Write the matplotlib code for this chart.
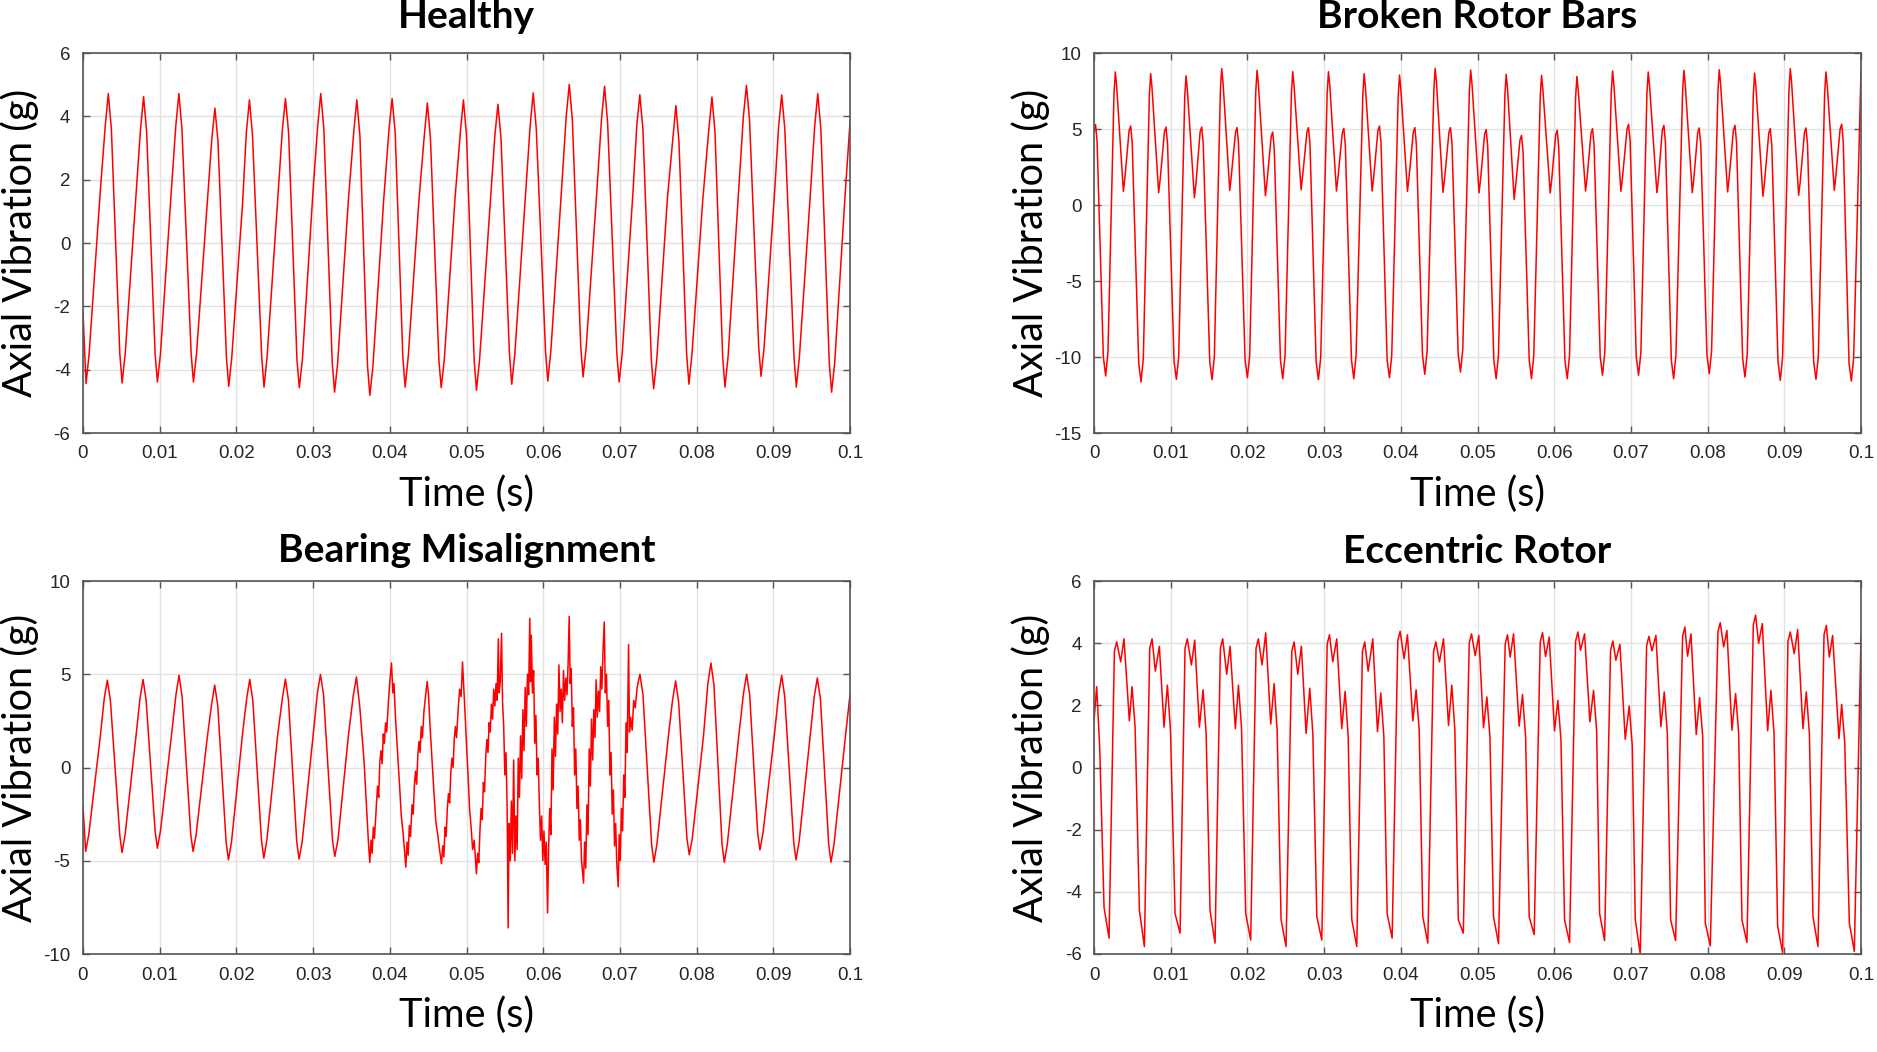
import matplotlib
matplotlib.use("Agg")
import matplotlib.pyplot as plt
import numpy as np

# ------------------------------------------------------------------ #
# Data (time in s, axial vibration in g)
# ------------------------------------------------------------------ #
xticks = [0, 0.01, 0.02, 0.03, 0.04, 0.05, 0.06, 0.07, 0.08, 0.09, 0.1]
xtick_labels = ["0", "0.01", "0.02", "0.03", "0.04", "0.05",
                "0.06", "0.07", "0.08", "0.09", "0.1"]

# Healthy
healthy_end_t = [0.0, 0.1]
healthy_end_v = [-2.2, 3.8]
healthy_trough_t = [0.0004, 0.0051, 0.0097, 0.0144, 0.0190, 0.0236, 0.0282, 0.0328,
                    0.0374, 0.0420, 0.0467, 0.0513, 0.0559, 0.0606, 0.0652, 0.0699,
                    0.0744, 0.0790, 0.0837, 0.0884, 0.0930, 0.0976]
healthy_trough_v = [-4.44, -4.42, -4.39, -4.39, -4.53, -4.55, -4.57, -4.71, -4.81, -4.55,
                    -4.57, -4.65, -4.46, -4.36, -4.23, -4.39, -4.60, -4.46, -4.55, -4.21,
                    -4.55, -4.71]
healthy_post_trough_t = [0.0008, 0.0055, 0.0101, 0.0148, 0.0194, 0.0240, 0.0286, 0.0332,
                         0.0378, 0.0424, 0.0471, 0.0517, 0.0563, 0.0610, 0.0656, 0.0703,
                         0.0748, 0.0794, 0.0841, 0.0888, 0.0934, 0.0980]
healthy_post_trough_v = [-3.5, -3.5, -3.5, -3.5, -3.6, -3.6, -3.7, -3.8, -3.9, -3.6, -3.7,
                         -3.7, -3.5, -3.4, -3.3, -3.5, -3.7, -3.5, -3.6, -3.3, -3.6, -3.8]
healthy_pre_trough_t = [0.0048, 0.0094, 0.0141, 0.0187, 0.0233, 0.0279, 0.0325, 0.0371,
                        0.0417, 0.0464, 0.0510, 0.0556, 0.0603, 0.0649, 0.0696, 0.0741,
                        0.0787, 0.0834, 0.0881, 0.0927, 0.0973]
healthy_pre_trough_v = [-3.5, -3.5, -3.5, -3.6, -3.6, -3.7, -3.8, -3.9, -3.6, -3.7, -3.7,
                        -3.5, -3.4, -3.3, -3.5, -3.7, -3.5, -3.6, -3.3, -3.6, -3.8]
healthy_shoulder_t = [0.0022, 0.0069, 0.0115, 0.0162, 0.0208, 0.0254, 0.0300, 0.0346,
                      0.0392, 0.0438, 0.0485, 0.0531, 0.0577, 0.0624, 0.0670, 0.0717,
                      0.0762, 0.0808, 0.0855, 0.0902, 0.0948, 0.0994]
healthy_shoulder_v = [1.45, 1.45, 1.60, 1.24, 1.24, 1.45, 1.68, 1.35, 1.35, 1.35, 1.40,
                      1.30, 1.56, 1.72, 1.66, 1.58, 1.43, 1.35, 1.75, 1.72, 1.43, 1.66]
healthy_pre_peak_t = [0.0029, 0.0075, 0.0121, 0.0168, 0.0213, 0.0260, 0.0306, 0.0353,
                      0.0399, 0.0445, 0.0492, 0.0537, 0.0583, 0.0630, 0.0676, 0.0722,
                      0.0769, 0.0816, 0.0861, 0.0907, 0.0954]
healthy_pre_peak_v = [3.7, 3.6, 3.7, 3.3, 3.5, 3.6, 3.7, 3.5, 3.6, 3.4, 3.5,
                      3.4, 3.7, 4.0, 3.9, 3.7, 3.3, 3.6, 4.0, 3.7, 3.7]
healthy_peak_t = [0.0033, 0.0079, 0.0125, 0.0172, 0.0217, 0.0264, 0.0310, 0.0357,
                  0.0403, 0.0449, 0.0496, 0.0541, 0.0587, 0.0634, 0.0680, 0.0726,
                  0.0773, 0.0820, 0.0865, 0.0911, 0.0958]
healthy_peak_v = [4.72, 4.62, 4.72, 4.26, 4.52, 4.56, 4.72, 4.52, 4.56, 4.42, 4.52,
                  4.38, 4.74, 5.01, 4.95, 4.68, 4.34, 4.61, 4.98, 4.68, 4.72]
healthy_post_peak_t = [0.0037, 0.0083, 0.0129, 0.0176, 0.0221, 0.0268, 0.0314, 0.0361,
                       0.0407, 0.0453, 0.0500, 0.0545, 0.0591, 0.0638, 0.0684, 0.0730,
                       0.0777, 0.0824, 0.0869, 0.0915, 0.0962]
healthy_post_peak_v = [3.6, 3.5, 3.6, 3.2, 3.4, 3.5, 3.6, 3.4, 3.5, 3.3, 3.4,
                       3.3, 3.6, 3.9, 3.8, 3.6, 3.2, 3.5, 3.9, 3.6, 3.6]

# Broken rotor bars
broken_end_t = [0.0, 0.1]
broken_end_v = [4.8, 8.8]
broken_big_trough_t = [0.00152, 0.00613, 0.01074, 0.01539, 0.02000, 0.02461, 0.02926,
                       0.03387, 0.03852, 0.04313, 0.04778, 0.05243, 0.05704, 0.06170,
                       0.06630, 0.07100, 0.07557, 0.08022, 0.08487, 0.08948, 0.09413,
                       0.09874]
broken_big_trough_v = [-11.25, -11.64, -11.47, -11.49, -11.36, -11.43, -11.49, -11.43,
                       -11.36, -11.14, -10.99, -11.43, -11.43, -11.43, -11.20, -11.20,
                       -11.43, -11.10, -11.32, -11.54, -11.47, -11.58]
broken_pre_bt_t = [0.00122, 0.00583, 0.01044, 0.01509, 0.01970, 0.02431, 0.02896, 0.03357,
                   0.03822, 0.04283, 0.04748, 0.05213, 0.05674, 0.06140, 0.06600, 0.07070,
                   0.07527, 0.07992, 0.08457, 0.08918, 0.09383, 0.09844]
broken_pre_bt_v = [-10.0, -10.4, -10.3, -10.3, -10.2, -10.2, -10.3, -10.2, -10.2, -9.9,
                   -9.8, -10.2, -10.2, -10.2, -10.0, -10.0, -10.2, -9.9, -10.1, -10.3,
                   -10.3, -10.4]
broken_post_bt_t = [0.00182, 0.00643, 0.01104, 0.01569, 0.02030, 0.02491, 0.02956, 0.03417,
                    0.03882, 0.04343, 0.04808, 0.05273, 0.05734, 0.06200, 0.06660, 0.07130,
                    0.07587, 0.08052, 0.08517, 0.08978, 0.09443, 0.09904]
broken_post_bt_v = [-9.7, -10.1, -10.0, -10.0, -9.9, -9.9, -10.0, -9.9, -9.9, -9.6,
                    -9.5, -9.9, -9.9, -9.9, -9.7, -9.7, -9.9, -9.6, -9.8, -10.0,
                    -10.0, -10.1]
broken_pre_bp_t = [0.00261, 0.00722, 0.01183, 0.01648, 0.02109, 0.02574, 0.03040, 0.03505,
                   0.03966, 0.04431, 0.04894, 0.05357, 0.05818, 0.06279, 0.06744, 0.07209,
                   0.07674, 0.08135, 0.08596, 0.09061, 0.09526]
broken_pre_bp_v = [7.35, 7.24, 7.10, 7.57, 7.46, 7.37, 7.37, 7.24, 7.15, 7.59, 7.48,
                   7.20, 7.13, 7.06, 7.42, 7.35, 7.46, 7.50, 7.28, 7.57, 7.35]
broken_big_peak_t = [0.00278, 0.00739, 0.01200, 0.01665, 0.02126, 0.02591, 0.03057,
                     0.03522, 0.03983, 0.04448, 0.04911, 0.05374, 0.05835, 0.06296,
                     0.06761, 0.07226, 0.07691, 0.08152, 0.08613, 0.09078, 0.09543]
broken_big_peak_v = [8.75, 8.64, 8.50, 8.97, 8.86, 8.77, 8.77, 8.64, 8.55, 8.99, 8.88,
                     8.60, 8.53, 8.46, 8.82, 8.75, 8.86, 8.90, 8.68, 8.97, 8.75]
broken_post_bp_t = [0.00295, 0.00756, 0.01217, 0.01682, 0.02143, 0.02608, 0.03074, 0.03539,
                    0.04000, 0.04465, 0.04928, 0.05391, 0.05852, 0.06313, 0.06778, 0.07243,
                    0.07708, 0.08169, 0.08630, 0.09095, 0.09560]
broken_post_bp_v = [7.85, 7.74, 7.60, 8.07, 7.96, 7.87, 7.87, 7.74, 7.65, 8.09, 7.98,
                    7.70, 7.63, 7.56, 7.92, 7.85, 7.96, 8.00, 7.78, 8.07, 7.85]
broken_small_trough_t = [0.00383, 0.00843, 0.01309, 0.01770, 0.02235, 0.02700, 0.03161,
                         0.03626, 0.04087, 0.04550, 0.05020, 0.05478, 0.05948, 0.06409,
                         0.06870, 0.07339, 0.07800, 0.08261, 0.08722, 0.09187, 0.09652]
broken_small_trough_v = [0.90, 0.81, 0.48, 0.96, 0.61, 1.00, 0.92, 0.92, 0.90, 0.83, 0.80,
                         0.37, 0.79, 0.92, 0.90, 0.81, 0.81, 0.86, 0.57, 0.64, 0.96]
broken_kink_t = [0.00403, 0.00863, 0.01329, 0.01790, 0.02255, 0.02720, 0.03181, 0.03646,
                 0.04107, 0.04570, 0.05040, 0.05498, 0.05968, 0.06429, 0.06890, 0.07359,
                 0.07820, 0.08281, 0.08742, 0.09207, 0.09672]
broken_kink_v = [1.8, 1.7, 1.4, 1.9, 1.5, 1.9, 1.8, 1.8, 1.8, 1.7, 1.7,
                 1.3, 1.7, 1.8, 1.8, 1.7, 1.7, 1.8, 1.5, 1.5, 1.9]
broken_pre_sp_t = [0.00458, 0.00919, 0.01384, 0.01845, 0.02310, 0.02776, 0.03237, 0.03702,
                   0.04163, 0.04628, 0.05093, 0.05554, 0.06019, 0.06480, 0.06950, 0.07410,
                   0.07871, 0.08337, 0.08797, 0.09263, 0.09728]
broken_pre_sp_v = [4.90, 4.83, 4.83, 4.79, 4.50, 4.79, 4.74, 4.90, 4.79, 4.79, 4.66,
                   4.28, 4.61, 4.72, 5.01, 4.94, 4.77, 4.94, 4.72, 4.77, 5.01]
broken_small_peak_t = [0.00020, 0.00478, 0.00939, 0.01404, 0.01865, 0.02330, 0.02796,
                       0.03257, 0.03722, 0.04183, 0.04648, 0.05113, 0.05574, 0.06039,
                       0.06500, 0.06970, 0.07430, 0.07891, 0.08357, 0.08817, 0.09283,
                       0.09748]
broken_small_peak_v = [5.30, 5.20, 5.13, 5.13, 5.09, 4.80, 5.09, 5.04, 5.20, 5.09, 5.09,
                       4.96, 4.58, 4.91, 5.02, 5.31, 5.24, 5.07, 5.24, 5.02, 5.07, 5.31]
broken_post_sp_t = [0.00040, 0.00498, 0.00959, 0.01424, 0.01885, 0.02350, 0.02816, 0.03277,
                    0.03742, 0.04203, 0.04668, 0.05133, 0.05594, 0.06059, 0.06520, 0.06990,
                    0.07450, 0.07911, 0.08377, 0.08837, 0.09303, 0.09768]
broken_post_sp_v = [4.20, 4.10, 4.03, 4.03, 3.99, 3.70, 3.99, 3.94, 4.10, 3.99, 3.99,
                    3.86, 3.48, 3.81, 3.92, 4.21, 4.14, 3.97, 4.14, 3.92, 3.97, 4.21]

# Bearing misalignment (clean cycles + noisy stretch in the middle)
bearing_end_t = [0.0, 0.1]
bearing_end_v = [-2.1, 3.9]
bearing_trough_t = [0.00035, 0.00509, 0.00970, 0.01435, 0.01896, 0.02357, 0.02817,
                    0.03283, 0.07443, 0.07904, 0.08361, 0.08826, 0.09296, 0.09752]
bearing_trough_v = [-4.50, -4.56, -4.33, -4.50, -4.95, -4.86, -4.91, -4.77, -5.08, -4.68,
                    -5.08, -4.42, -4.95, -5.08]
bearing_post_trough_t = [0.00075, 0.00549, 0.01010, 0.01475, 0.01936, 0.02397, 0.02857,
                         0.03323, 0.07483, 0.07944, 0.08401, 0.08866, 0.09336, 0.09792]
bearing_post_trough_v = [-3.6, -3.6, -3.4, -3.6, -4.0, -3.9, -4.0, -3.9, -4.1, -3.8,
                         -4.1, -3.5, -4.0, -4.1]
bearing_pre_trough_t = [0.00479, 0.00940, 0.01405, 0.01866, 0.02327, 0.02787, 0.03253,
                        0.07413, 0.07874, 0.08331, 0.08796, 0.09266, 0.09722]
bearing_pre_trough_v = [-3.6, -3.4, -3.6, -4.0, -3.9, -4.0, -3.9, -4.1, -3.8, -4.1, -3.5,
                        -4.0, -4.1]
bearing_shoulder_t = [0.0022, 0.0069, 0.0115, 0.0162, 0.0208, 0.0254, 0.0300, 0.0346,
                      0.0763, 0.0809, 0.0855, 0.0901, 0.0948, 0.0994]
bearing_shoulder_v = [1.47, 1.65, 1.60, 1.60, 1.80, 1.80, 1.70, 1.70, 1.60, 1.70, 1.70,
                      1.60, 1.70, 1.65]
bearing_pre_peak_t = [0.00277, 0.00743, 0.01212, 0.01677, 0.02134, 0.02599, 0.03056,
                      0.03525, 0.07686, 0.08147, 0.08612, 0.09069, 0.09534]
bearing_pre_peak_v = [3.7, 3.7, 3.9, 3.4, 3.7, 3.7, 4.0, 3.9, 3.6, 4.5, 4.0, 3.9, 3.8]
bearing_peak_t = [0.00317, 0.00783, 0.01252, 0.01717, 0.02174, 0.02639, 0.03096, 0.03565,
                  0.07261, 0.07726, 0.08187, 0.08652, 0.09109, 0.09574]
bearing_peak_v = [4.68, 4.72, 4.95, 4.42, 4.72, 4.74, 4.99, 4.86, 5.00, 4.64, 5.60, 5.00,
                  4.94, 4.80]
bearing_post_peak_t = [0.00357, 0.00823, 0.01292, 0.01757, 0.02214, 0.02679, 0.03136,
                       0.07301, 0.07766, 0.08227, 0.08692, 0.09149, 0.09614]
bearing_post_peak_v = [3.6, 3.6, 3.8, 3.3, 3.6, 3.6, 3.9, 3.9, 3.5, 4.4, 3.9, 3.8, 3.7]
bearing_noise_t = [
    0.03610, 0.03640, 0.03665, 0.03690, 0.03705, 0.03720, 0.03739, 0.03755, 0.03770, 0.03785,
    0.03800, 0.03820, 0.03840, 0.03855, 0.03870, 0.03885, 0.03900, 0.03915, 0.03930, 0.03945,
    0.03960, 0.03980, 0.04000, 0.04022, 0.04040, 0.04055, 0.04075, 0.04100, 0.04125, 0.04150,
    0.04175, 0.04190, 0.04209, 0.04225, 0.04240, 0.04255, 0.04270, 0.04290, 0.04305, 0.04320,
    0.04335, 0.04350, 0.04365, 0.04380, 0.04395, 0.04410, 0.04425, 0.04445, 0.04465, 0.04487,
    0.04505, 0.04525, 0.04550, 0.04575, 0.04600, 0.04625, 0.04645, 0.04674, 0.04690, 0.04705,
    0.04720, 0.04735, 0.04750, 0.04765, 0.04780, 0.04795, 0.04810, 0.04825, 0.04840, 0.04855,
    0.04870, 0.04890, 0.04910, 0.04930, 0.04948, 0.04965, 0.04980, 0.05000, 0.05020, 0.05040,
    0.05060, 0.05080, 0.05100, 0.05130, 0.05145, 0.05160, 0.05175, 0.05190, 0.05205, 0.05220,
    0.05235, 0.05250, 0.05265, 0.05280, 0.05295, 0.05310, 0.05325, 0.05340, 0.05355, 0.05370,
    0.05385, 0.05400, 0.05415, 0.05425, 0.05440, 0.05457, 0.05470, 0.05485, 0.05500, 0.05515,
    0.05530, 0.05543, 0.05555, 0.05570, 0.05585, 0.05600, 0.05615, 0.05630, 0.05645, 0.05660,
    0.05675, 0.05690, 0.05705, 0.05720, 0.05735, 0.05750, 0.05765, 0.05780, 0.05795, 0.05810,
    0.05825, 0.05835, 0.05845, 0.05860, 0.05875, 0.05890, 0.05905, 0.05920, 0.05935, 0.05950,
    0.05965, 0.05980, 0.05995, 0.06010, 0.06025, 0.06040, 0.06057, 0.06070, 0.06085, 0.06100,
    0.06115, 0.06130, 0.06145, 0.06160, 0.06175, 0.06190, 0.06205, 0.06220, 0.06235, 0.06250,
    0.06265, 0.06280, 0.06295, 0.06310, 0.06325, 0.06339, 0.06352, 0.06365, 0.06380, 0.06395,
    0.06410, 0.06425, 0.06440, 0.06455, 0.06470, 0.06485, 0.06500, 0.06526, 0.06540, 0.06555,
    0.06570, 0.06585, 0.06600, 0.06615, 0.06630, 0.06645, 0.06660, 0.06675, 0.06690, 0.06705,
    0.06720, 0.06735, 0.06750, 0.06765, 0.06780, 0.06796, 0.06810, 0.06825, 0.06840, 0.06855,
    0.06870, 0.06885, 0.06900, 0.06915, 0.06930, 0.06945, 0.06960, 0.06978, 0.06990, 0.07005,
    0.07020, 0.07035, 0.07050, 0.07065, 0.07080, 0.07095, 0.07113, 0.07125, 0.07140, 0.07160,
    0.07180, 0.07200, 0.07225]
bearing_noise_v = [
    3.2, 1.6, 0.3, -1.6, -2.8, -3.9, -5.09, -3.9, -4.6, -3.2,
    -3.8, -2.4, -1.0, -1.6, 0.3, 0.9, 0.2, 1.8, 1.3, 2.4,
    1.9, 3.4, 4.6, 5.61, 4.0, 4.5, 2.6, 0.9, -0.8, -2.6,
    -3.6, -4.4, -5.34, -4.0, -4.7, -3.1, -3.7, -2.0, -2.5, -1.0,
    -0.2, -0.9, 0.6, 1.4, 0.8, 2.2, 1.6, 3.0, 3.8, 4.61,
    3.9, 2.2, 0.4, -1.3, -2.9, -3.6, -4.3, -5.16, -4.2, -4.8,
    -3.2, -3.7, -2.2, -1.4, -1.9, -0.3, 0.5, 0.0, 1.5, 2.2,
    1.6, 3.0, 4.2, 3.8, 5.66, 4.3, 3.0, 1.2, -0.4, -2.2,
    -3.2, -4.4, -3.9, -5.7, -4.6, -5.1, -3.4, -2.2, -2.8, -0.8,
    -1.3, 0.5, 1.5, 0.8, 2.4, 1.9, 3.4, 2.6, 4.2, 3.3,
    4.5, 3.6, 6.9, 4.0, 4.6, 7.2, 3.5, 2.2, -0.4, 0.8,
    -2.2, -8.6, -3.0, -5.0, -1.8, -4.6, 0.4, -5.0, -2.6, -4.4,
    0.5, -1.6, 1.7, -0.6, 3.1, 0.9, 4.3, 2.2, 5.0, 3.9,
    8.0, 4.6, 7.1, 4.0, 5.2, 1.3, 2.8, -0.4, 0.5, -2.0,
    -3.9, -2.6, -5.0, -3.4, -5.2, -4.0, -7.8, -4.4, -2.2, -3.6,
    1.0, -1.2, 2.7, 0.6, 3.4, 1.8, 5.5, 3.0, 4.2, 2.4,
    5.2, 3.6, 4.8, 3.9, 5.6, 8.1, 4.5, 5.3, 2.2, 3.2,
    -0.4, 1.0, -2.2, -1.0, -3.9, -2.8, -5.0, -6.2, -4.0, -5.4,
    -2.0, -3.6, 1.0, -1.0, 2.6, 0.4, 3.1, 1.6, 4.7, 2.7,
    4.1, 3.0, 5.4, 4.2, 6.3, 7.8, 4.0, 5.0, 2.2, 3.6,
    -0.4, 0.8, -2.5, -1.2, -4.2, -3.0, -5.2, -6.4, -3.6, -5.0,
    -2.2, -3.4, -0.4, -1.6, 2.4, 0.8, 6.6, 1.9, 2.7, 2.0,
    3.6, 3.2, 4.3]

# Eccentric rotor
ecc_end_t = [0.0, 0.1]
ecc_end_v = [1.5, 4.22]
ecc_bottom_t = [0.00196, 0.00657, 0.01122, 0.01578, 0.02043, 0.02504, 0.02970, 0.03426,
                0.03887, 0.04352, 0.04815, 0.05274, 0.05739, 0.06200, 0.06657, 0.07122,
                0.07583, 0.08035, 0.08513, 0.08978, 0.09439, 0.09913]
ecc_bottom_v = [-5.49, -5.76, -5.33, -5.65, -5.55, -5.76, -5.55, -5.76, -5.49, -5.65, -5.33,
                -5.67, -5.38, -5.63, -5.57, -6.00, -5.57, -5.74, -5.63, -5.95, -5.76, -5.92]
ecc_knee_t = [0.00131, 0.00592, 0.01057, 0.01513, 0.01978, 0.02439, 0.02905, 0.03361,
              0.03822, 0.04287, 0.04750, 0.05209, 0.05674, 0.06135, 0.06592, 0.07057,
              0.07518, 0.07970, 0.08448, 0.08913, 0.09374, 0.09848]
ecc_knee_v = [-4.5, -4.6, -4.7, -4.6, -4.7, -4.9, -4.8, -4.9, -4.7, -4.8, -4.9,
              -4.8, -4.8, -4.9, -4.7, -4.9, -4.9, -5.0, -4.9, -5.1, -4.8, -5.0]
ecc_rise_t = [0.00266, 0.00727, 0.01187, 0.01648, 0.02113, 0.02579, 0.03040, 0.03500,
              0.03961, 0.04427, 0.04892, 0.05361, 0.05818, 0.06279, 0.06735, 0.07205,
              0.07674, 0.08135, 0.08596, 0.09048, 0.09518]
ecc_rise_v = [3.74, 3.84, 3.84, 3.84, 3.84, 3.74, 3.97, 3.74, 4.08, 3.74, 4.00,
              3.97, 4.04, 4.06, 3.77, 3.92, 4.22, 4.36, 4.60, 4.06, 4.27]
ecc_hump1_t = [0.00296, 0.00757, 0.01217, 0.01678, 0.02143, 0.02609, 0.03070, 0.03530,
               0.03991, 0.04457, 0.04922, 0.05391, 0.05848, 0.06309, 0.06765, 0.07235,
               0.07704, 0.08165, 0.08626, 0.09078, 0.09548]
ecc_hump1_v = [4.04, 4.14, 4.14, 4.14, 4.14, 4.04, 4.27, 4.04, 4.38, 4.04, 4.30,
               4.27, 4.34, 4.36, 4.07, 4.22, 4.52, 4.66, 4.90, 4.36, 4.57]
ecc_dip_t = [0.00348, 0.00800, 0.01270, 0.01730, 0.02191, 0.02657, 0.03113, 0.03574,
             0.04043, 0.04504, 0.04970, 0.05426, 0.05887, 0.06343, 0.06804, 0.07274,
             0.07739, 0.08209, 0.08665, 0.09130, 0.09587]
ecc_dip_v = [3.40, 3.10, 3.30, 3.00, 3.30, 3.00, 3.40, 3.10, 3.50, 3.40, 3.60,
             3.55, 3.57, 3.77, 3.45, 3.75, 3.58, 3.88, 3.99, 3.66, 3.55]
ecc_hump2_t = [0.00391, 0.00852, 0.01313, 0.01774, 0.02239, 0.02704, 0.03165, 0.03635,
               0.04087, 0.04557, 0.05017, 0.05470, 0.05935, 0.06396, 0.06857, 0.07326,
               0.07783, 0.08252, 0.08713, 0.09174, 0.09630]
ecc_hump2_v = [4.14, 3.90, 4.10, 3.90, 4.33, 3.90, 4.14, 4.14, 4.27, 4.14, 4.25,
               4.30, 4.20, 4.30, 3.96, 4.25, 4.30, 4.41, 4.63, 4.44, 4.25]
ecc_small_trough_t = [0.00461, 0.00913, 0.01374, 0.01843, 0.02304, 0.02765, 0.03230,
                      0.03696, 0.04157, 0.04622, 0.05078, 0.05543, 0.06004, 0.06465,
                      0.06926, 0.07391, 0.07852, 0.08317, 0.08783, 0.09243, 0.09713]
ecc_small_trough_v = [1.50, 1.30, 1.30, 1.25, 1.40, 1.10, 1.25, 1.15, 1.50, 1.35, 1.28,
                      1.33, 1.18, 1.47, 0.91, 1.31, 1.06, 1.20, 1.18, 1.25, 0.93]
ecc_small_hump_t = [0.00035, 0.00496, 0.00957, 0.01422, 0.01883, 0.02348, 0.02813,
                    0.03274, 0.03739, 0.04200, 0.04665, 0.05122, 0.05587, 0.06048,
                    0.06513, 0.06978, 0.07435, 0.07896, 0.08365, 0.08826, 0.09287,
                    0.09748]
ecc_small_hump_v = [2.60, 2.60, 2.65, 2.50, 2.65, 2.70, 2.55, 2.45, 2.40, 2.50, 2.65,
                    2.27, 2.35, 2.16, 2.48, 1.98, 2.43, 2.25, 2.38, 2.48, 2.43, 2.03]
ecc_drop_t = [0.00075, 0.00536, 0.00997, 0.01462, 0.01923, 0.02388, 0.02853, 0.03314,
              0.03779, 0.04240, 0.04705, 0.05162, 0.05627, 0.06088, 0.06553, 0.07018,
              0.07475, 0.07936, 0.08405, 0.08866, 0.09327, 0.09788]
ecc_drop_v = [0.6, 1.3, 1.2, 1.1, 1.3, 1.2, 1.1, 1.0, 1.0, 1.2, 1.2,
              1.0, 1.0, 0.9, 1.2, 0.7, 1.1, 1.0, 1.1, 1.1, 1.1, 0.8]


def trace(*pairs):
    """Merge (times, values) pairs into one time-ordered polyline."""
    t = np.concatenate([np.asarray(p[0], float) for p in pairs])
    v = np.concatenate([np.asarray(p[1], float) for p in pairs])
    order = np.argsort(t, kind="stable")
    return t[order], v[order]


panels = [
    ("Healthy", [-6, -4, -2, 0, 2, 4, 6], 18,
     trace((healthy_end_t, healthy_end_v),
           (healthy_trough_t, healthy_trough_v),
           (healthy_post_trough_t, healthy_post_trough_v),
           (healthy_pre_trough_t, healthy_pre_trough_v),
           (healthy_shoulder_t, healthy_shoulder_v),
           (healthy_pre_peak_t, healthy_pre_peak_v),
           (healthy_peak_t, healthy_peak_v),
           (healthy_post_peak_t, healthy_post_peak_v))),
    ("Broken Rotor Bars", [-15, -10, -5, 0, 5, 10], 18,
     trace((broken_end_t, broken_end_v),
           (broken_big_trough_t, broken_big_trough_v),
           (broken_pre_bt_t, broken_pre_bt_v),
           (broken_post_bt_t, broken_post_bt_v),
           (broken_pre_bp_t, broken_pre_bp_v),
           (broken_big_peak_t, broken_big_peak_v),
           (broken_post_bp_t, broken_post_bp_v),
           (broken_small_trough_t, broken_small_trough_v),
           (broken_kink_t, broken_kink_v),
           (broken_pre_sp_t, broken_pre_sp_v),
           (broken_small_peak_t, broken_small_peak_v),
           (broken_post_sp_t, broken_post_sp_v))),
    ("Bearing Misalignment", [-10, -5, 0, 5, 10], 14,
     trace((bearing_end_t, bearing_end_v),
           (bearing_trough_t, bearing_trough_v),
           (bearing_post_trough_t, bearing_post_trough_v),
           (bearing_pre_trough_t, bearing_pre_trough_v),
           (bearing_shoulder_t, bearing_shoulder_v),
           (bearing_pre_peak_t, bearing_pre_peak_v),
           (bearing_peak_t, bearing_peak_v),
           (bearing_post_peak_t, bearing_post_peak_v),
           (bearing_noise_t, bearing_noise_v))),
    ("Eccentric Rotor", [-6, -4, -2, 0, 2, 4, 6], 13,
     trace((ecc_end_t, ecc_end_v),
           (ecc_bottom_t, ecc_bottom_v),
           (ecc_knee_t, ecc_knee_v),
           (ecc_rise_t, ecc_rise_v),
           (ecc_hump1_t, ecc_hump1_v),
           (ecc_dip_t, ecc_dip_v),
           (ecc_hump2_t, ecc_hump2_v),
           (ecc_small_trough_t, ecc_small_trough_v),
           (ecc_small_hump_t, ecc_small_hump_v),
           (ecc_drop_t, ecc_drop_v))),
]

# axes boxes in figure fractions (left, bottom, width, height)
W, H = 1877.0, 1052.0
boxes = [
    (83 / W, 1 - 433 / H, 767 / W, 380 / H),
    (1094 / W, 1 - 433 / H, 767 / W, 380 / H),
    (83 / W, 1 - 954 / H, 767 / W, 373 / H),
    (1094 / W, 1 - 954 / H, 767 / W, 373 / H),
]

plt.rcParams["font.family"] = ["Lato", "DejaVu Sans"]
plt.rcParams["axes.unicode_minus"] = False

fig = plt.figure(figsize=(W / 100, H / 100), dpi=100)

for (title, yticks, tpad, (t, v)), box in zip(panels, boxes):
    ax = fig.add_axes(box)
    ax.plot(t, v, color="#ff0000", lw=1.1)
    ax.set_xlim(0, 0.1)
    ax.set_ylim(yticks[0], yticks[-1])
    ax.set_xticks(xticks)
    ax.set_xticklabels(xtick_labels)
    ax.set_yticks(yticks)
    ax.set_yticklabels([str(y) for y in yticks])
    ax.grid(True, color="#e2e2e2", lw=1.0)
    ax.set_axisbelow(True)
    ax.tick_params(direction="in", length=5, width=1.0, top=True, right=True,
                   color="#555555", labelcolor="#262626", labelsize=13.5, pad=9)
    for lbl in ax.get_xticklabels() + ax.get_yticklabels():
        lbl.set_fontfamily(["Liberation Sans", "DejaVu Sans"])
    for sp in ax.spines.values():
        sp.set_color("#555555")
        sp.set_linewidth(1.2)
    ax.set_xlabel("Time (s)", fontsize=28.5, labelpad=9)
    ax.set_ylabel("Axial Vibration (g)", fontsize=28.5)
    ax.yaxis.set_label_coords(-0.058, 0.5)
    ax.set_title(title, fontsize=28, fontweight="bold", pad=tpad)

fig.savefig("out.png", dpi=100)
